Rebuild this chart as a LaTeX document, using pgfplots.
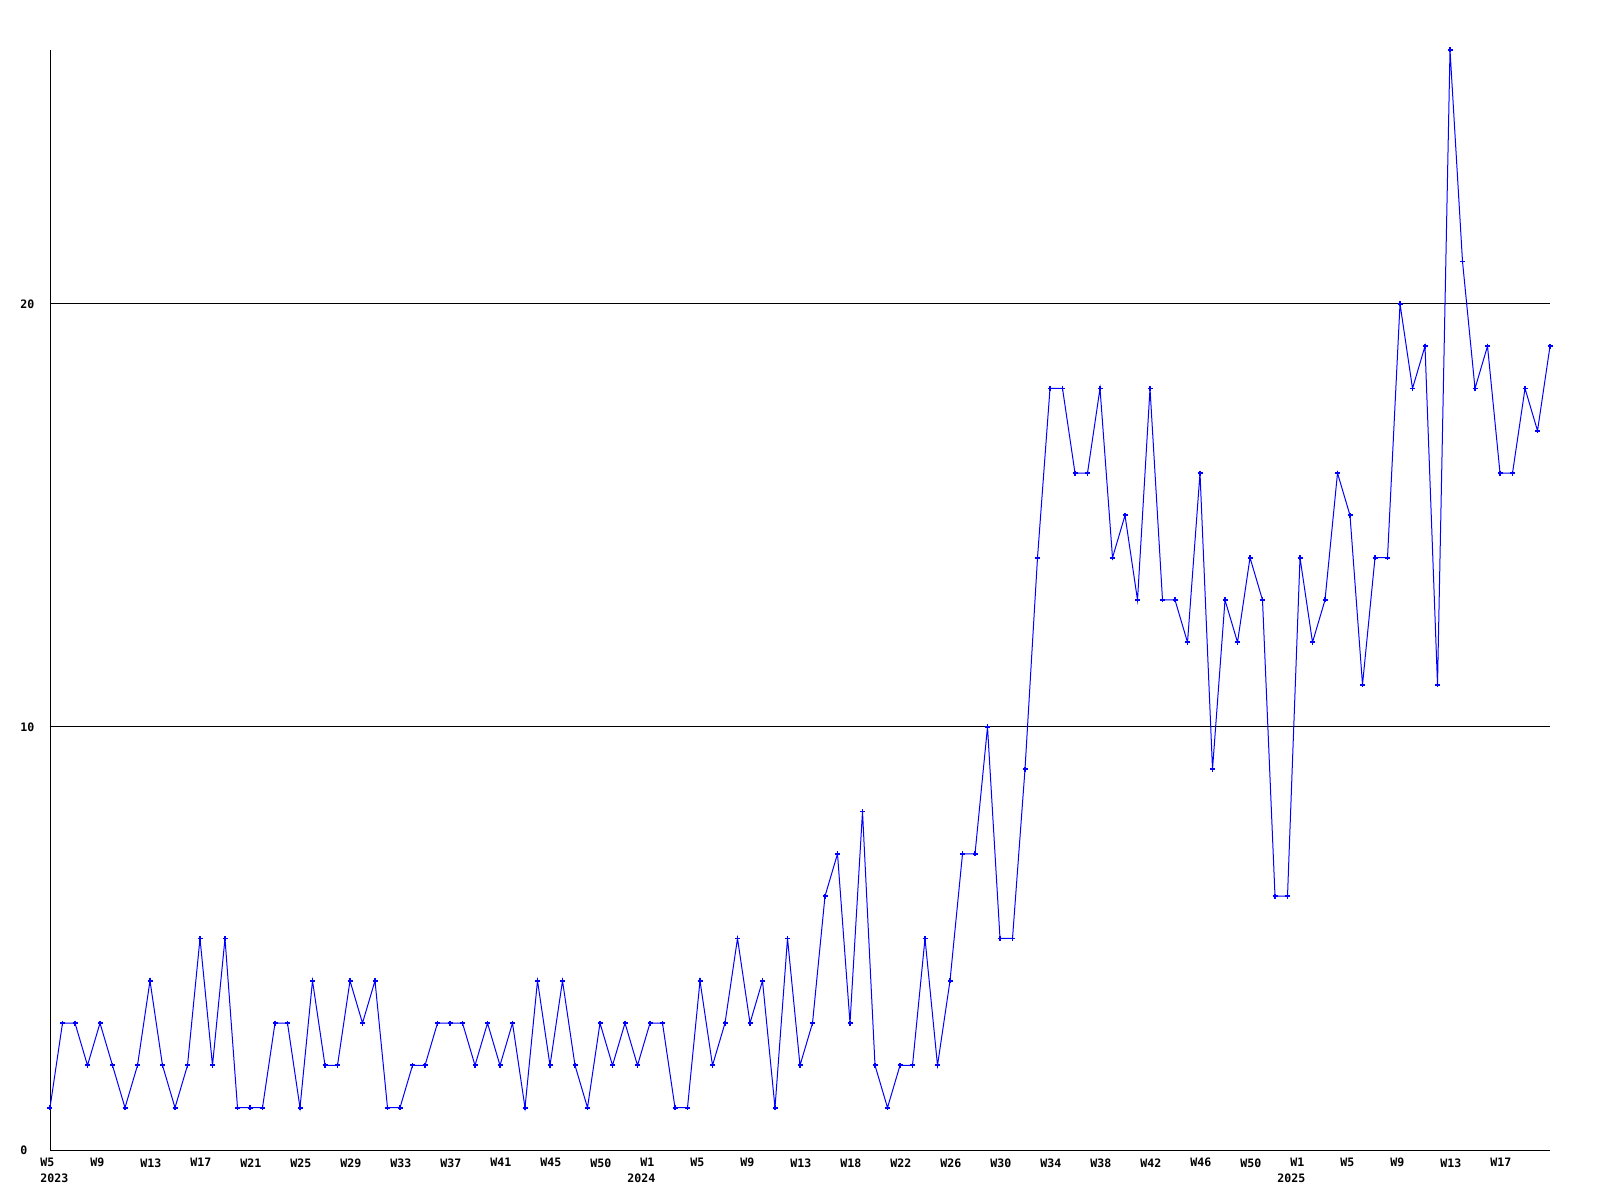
\documentclass[border=0pt]{standalone}
\usepackage{fontspec}
\usepackage{pgfplots}
\pgfplotsset{compat=1.18}
\newfontfamily\lbl{DejaVu Sans Mono}
\definecolor{rrdblue}{RGB}{0,0,255}
\newcommand{\lblfont}{\lbl\bfseries\fontsize{5.8bp}{7bp}\selectfont}
\begin{document}
\begin{tikzpicture}
\path[use as bounding box, fill=white] (0,0) rectangle (800bp,600bp);
\begin{axis}[
  at={(25bp,25bp)}, anchor=south west,
  scale only axis, width=750bp, height=550bp,
  xmin=0, xmax=120, ymin=0, ymax=26,
  axis lines*=left,
  axis line style={black, line width=0.5bp},
  ytick={0,10,20},
  ymajorgrids, grid style={black, line width=0.5bp},
  major tick length=0pt,
  xtick={0,4,...,116},
  xticklabels={W5,W9,W13,W17,W21,W25,W29,W33,W37,W41,W45,W50,W1,W5,W9,W13,W18,W22,W26,W30,W34,W38,W42,W46,W50,W1,W5,W9,W13,W17},
  tick label style={font=\lblfont, inner sep=0pt},
  xticklabel style={anchor=north west, xshift=-5bp, yshift=-4bp},
  yticklabel style={anchor=west, xshift=-15bp},
  /pgf/number format/assume math mode=true,
  clip=false,
]
\addplot[color=rrdblue, line width=0.5bp, mark=+, mark size=1.25bp, mark options={line width=0.9bp}] coordinates {
(0,1)(1,3)(2,3)(3,2)(4,3)(5,2)(6,1)(7,2)(8,4)(9,2)
(10,1)(11,2)(12,5)(13,2)(14,5)(15,1)(16,1)(17,1)(18,3)(19,3)
(20,1)(21,4)(22,2)(23,2)(24,4)(25,3)(26,4)(27,1)(28,1)(29,2)
(30,2)(31,3)(32,3)(33,3)(34,2)(35,3)(36,2)(37,3)(38,1)(39,4)
(40,2)(41,4)(42,2)(43,1)(44,3)(45,2)(46,3)(47,2)(48,3)(49,3)
(50,1)(51,1)(52,4)(53,2)(54,3)(55,5)(56,3)(57,4)(58,1)(59,5)
(60,2)(61,3)(62,6)(63,7)(64,3)(65,8)(66,2)(67,1)(68,2)(69,2)
(70,5)(71,2)(72,4)(73,7)(74,7)(75,10)(76,5)(77,5)(78,9)(79,14)
(80,18)(81,18)(82,16)(83,16)(84,18)(85,14)(86,15)(87,13)(88,18)(89,13)
(90,13)(91,12)(92,16)(93,9)(94,13)(95,12)(96,14)(97,13)(98,6)(99,6)
(100,14)(101,12)(102,13)(103,16)(104,15)(105,11)(106,14)(107,14)(108,20)(109,18)
(110,19)(111,11)(112,26)(113,21)(114,18)(115,19)(116,16)(117,16)(118,18)(119,17)
(120,19)
};
\node[anchor=north west, inner sep=0pt, font=\lblfont, xshift=-5bp, yshift=-11.5bp] at (axis cs:0,0) {2023};
\node[anchor=north west, inner sep=0pt, font=\lblfont, xshift=-11.5bp, yshift=-11.5bp] at (axis cs:48,0) {2024};
\node[anchor=north west, inner sep=0pt, font=\lblfont, xshift=-11.5bp, yshift=-11.5bp] at (axis cs:100,0) {2025};
\end{axis}
\end{tikzpicture}
\end{document}
